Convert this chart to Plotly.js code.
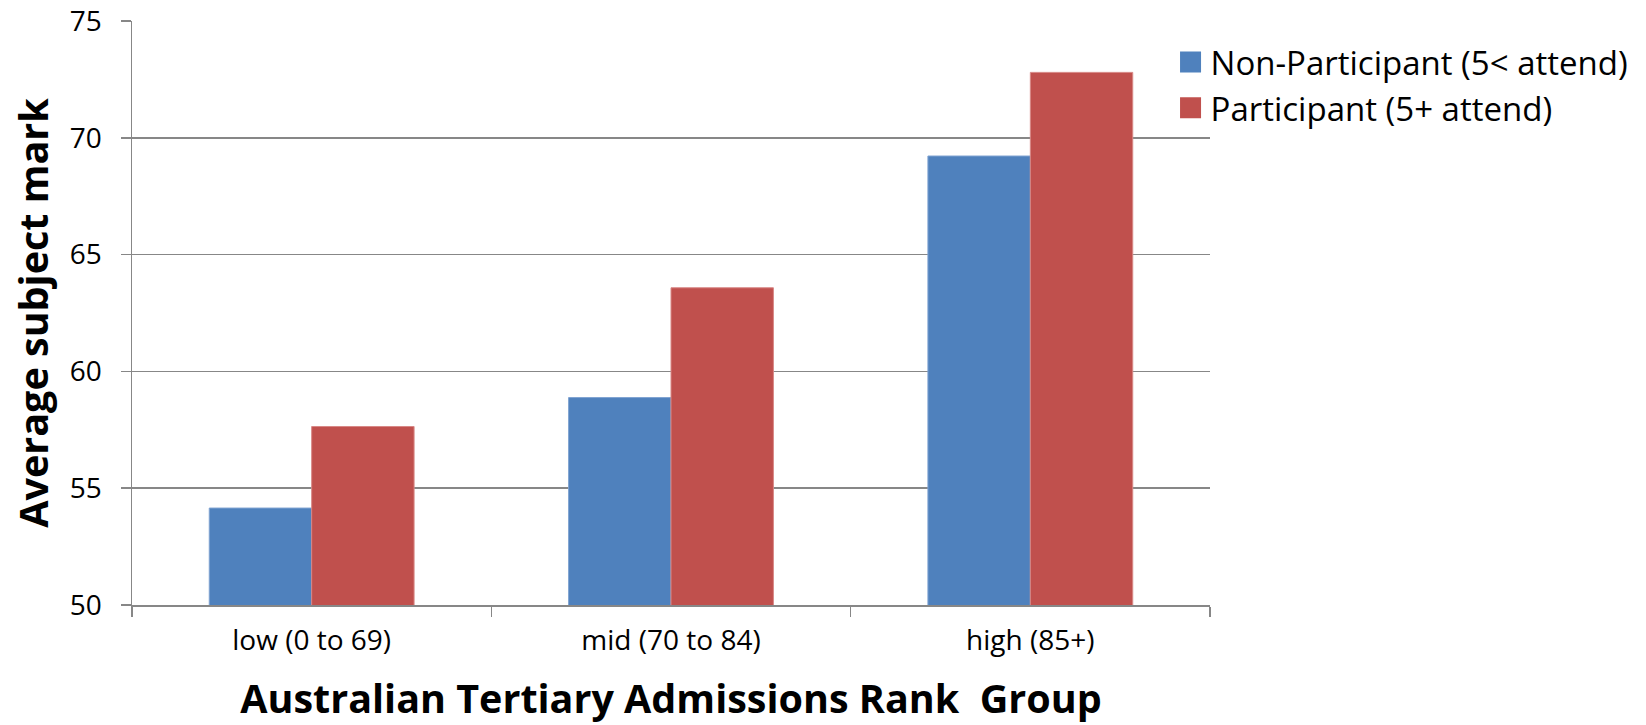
<!DOCTYPE html>
<html>
<head>
<meta charset="utf-8">
<script src="https://cdn.plot.ly/plotly-3.0.1.min.js"></script>
<style>
html, body { margin: 0; padding: 0; background: #ffffff; }
#chart { width: 1646px; height: 725px; }
</style>
</head>
<body>
<div id="chart"></div>
<script>
// ---- Data ----
var categories = ['low (0 to 69)', 'mid (70 to 84)', 'high (85+)'];
var nonParticipant = [54.15, 58.88, 69.22];
var participant = [57.64, 63.58, 72.80];
var seriesNames = ['Non-Participant (5&lt; attend)', 'Participant (5+ attend)'];
var yTickVals = [50, 55, 60, 65, 70, 75];

var FONT = '"Open Sans", "Noto Sans", "DejaVu Sans", sans-serif';
var GRID = '#878787';

var traces = [
  {
    type: 'bar',
    name: seriesNames[0],
    x: categories,
    y: nonParticipant,
    marker: { color: '#4F81BD', line: { color: '#7FA3D1', width: 1 } },
    hoverinfo: 'x+y+name'
  },
  {
    type: 'bar',
    name: seriesNames[1],
    x: categories,
    y: participant,
    marker: { color: '#C0504D', line: { color: '#D88886', width: 1 } },
    hoverinfo: 'x+y+name'
  }
];

var layout = {
  width: 1646,
  height: 725,
  margin: { l: 132, r: 433, t: 21, b: 120, pad: 0 },
  paper_bgcolor: '#ffffff',
  plot_bgcolor: '#ffffff',
  font: { family: FONT, color: '#000000', size: 28 },
  barmode: 'group',
  bargap: 0.43,
  bargroupgap: 0,
  showlegend: true,
  legend: {
    x: 0.9634,
    xanchor: 'left',
    y: 0.9777,
    yanchor: 'top',
    font: { family: FONT, size: 33, color: '#000000' },
    bgcolor: 'rgba(0,0,0,0)',
    borderwidth: 0,
    traceorder: 'normal'
  },
  xaxis: {
    type: 'category',
    tickson: 'boundaries',
    ticks: 'outside',
    ticklen: 10,
    tickwidth: 1.5,
    tickcolor: GRID,
    ticklabelstandoff: 10,
    showline: true,
    linecolor: GRID,
    linewidth: 1.5,
    showgrid: false,
    zeroline: false,
    tickfont: { family: FONT, size: 28, color: '#000000' },
    automargin: false,
    title: {
      text: '<b>Australian Tertiary Admissions Rank\u00a0 Group</b>',
      font: { family: FONT, size: 39.5, color: '#000000' },
      standoff: 30
    }
  },
  yaxis: {
    range: [50, 75],
    tickvals: yTickVals,
    ticktext: yTickVals.map(String),
    ticks: 'outside',
    ticklen: 10,
    tickwidth: 1.5,
    tickcolor: GRID,
    ticklabelstandoff: 13,
    showline: true,
    linecolor: GRID,
    linewidth: 1.5,
    showgrid: true,
    gridcolor: GRID,
    gridwidth: 1.5,
    zeroline: false,
    tickfont: { family: FONT, size: 28, color: '#000000' },
    automargin: false,
    title: {
      text: '<b>Average subject mark</b>',
      font: { family: FONT, size: 39.5, color: '#000000' },
      standoff: 9
    }
  }
};

Plotly.newPlot('chart', traces, layout, { staticPlot: true, displayModeBar: false }).then(function () {
  // enlarge legend swatches to match the reference squares
  document.querySelectorAll('.legend .legendpoints path').forEach(function (p) {
    p.setAttribute('transform', 'translate(20,0) scale(1.75)');
    p.style.strokeWidth = '0px';
  });
});
</script>
</body>
</html>
